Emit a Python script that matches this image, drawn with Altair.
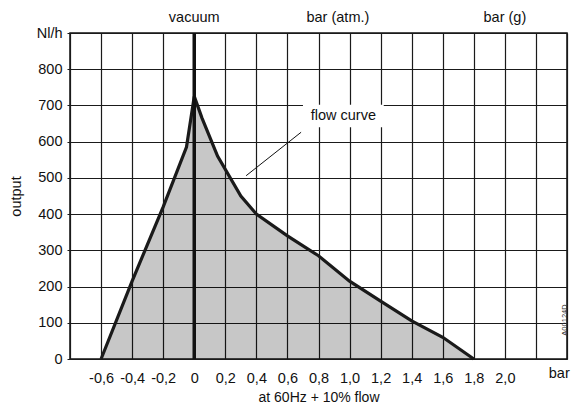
import altair as alt
import pandas as pd

# flow curve (bar, Nl/h)
curve_x = [-0.6, -0.4, -0.2, -0.05, 0.0, 0.05, 0.15, 0.3, 0.4, 0.6, 0.8, 1.0, 1.2, 1.4, 1.6, 1.8]
curve_y = [0, 215, 420, 585, 725, 665, 560, 450, 400, 340, 285, 215, 160, 105, 60, 0]

x_ticks = [-0.8, -0.6, -0.4, -0.2, 0.0, 0.2, 0.4, 0.6, 0.8, 1.0, 1.2, 1.4, 1.6, 1.8, 2.0, 2.2, 2.4]
y_ticks = [0, 100, 200, 300, 400, 500, 600, 700, 800, 900]

top_labels = ["vacuum", "bar (atm.)", "bar (g)"]
top_label_x = [0.0, 0.925, 2.0]

FONT = "Liberation Sans"
FS = 14.5

df = pd.DataFrame({"x": curve_x, "y": curve_y})

xs = alt.Scale(domain=[-0.8, 2.4], nice=False, zero=False)
ys = alt.Scale(domain=[0, 900], nice=False)

x_axis = alt.Axis(
    values=x_ticks, title="at 60Hz + 10% flow", grid=True, gridColor="#1a1a1a", gridWidth=1.2,
    gridOpacity=1, domain=False, ticks=False, labelPadding=12, titlePadding=6,
    labelOverlap=False, tickCount=17,
    labelFont=FONT, labelFontSize=FS, labelColor="#111", titleFont=FONT, titleFontSize=14,
    titleFontWeight="normal", titleColor="#111", labelFlush=False,
    labelExpr="(datum.value < -0.7 || datum.value > 2.1) ? '' : (abs(datum.value) < 0.01 ? '0' : replace(replace(format(datum.value, '.1f'), '.', ','), '\u2212', '-'))")
y_axis = alt.Axis(
    values=y_ticks, title="output", grid=True, gridColor="#1a1a1a", gridWidth=1.2,
    gridOpacity=1, domain=False, ticks=True, tickSize=3, tickColor="#1a1a1a", labelPadding=5,
    titlePadding=13, labelOverlap=False, labelFlush=False, tickCount=10,
    labelFont=FONT, labelFontSize=FS, labelColor="#111", titleFont=FONT, titleFontSize=FS,
    titleFontWeight="normal", titleColor="#111",
    labelExpr="datum.value == 900 ? 'Nl/h' : datum.value")

X = alt.X("x:Q", scale=xs, axis=x_axis)
Y = alt.Y("y:Q", scale=ys, axis=y_axis)

area = alt.Chart(df).mark_area(color="#000000", opacity=0.22).encode(x=X, y=Y)
line = alt.Chart(df).mark_line(color="#1a1a1a", strokeWidth=3.2).encode(x=X, y=Y)

zero_df = pd.DataFrame({"x": [0.0], "y": [0], "y2": [900]})
zero_line = alt.Chart(zero_df).mark_rule(color="#111", strokeWidth=3.5).encode(
    x=X, y=Y, y2="y2:Q")

box_df = pd.DataFrame({"x": [0.70], "x2": [1.22], "y": [640], "y2": [702]})
box = alt.Chart(box_df).mark_rect(color="white").encode(x=X, x2="x2:Q", y=Y, y2="y2:Q")

ann_df = pd.DataFrame({"x": [0.96], "y": [670], "t": ["flow curve"]})
ann = alt.Chart(ann_df).mark_text(font=FONT, fontSize=FS, color="#111").encode(
    x=X, y=Y, text="t:N")

leader_df = pd.DataFrame({"x": [0.688], "y": [626], "x2": [0.334], "y2": [506]})
leader = alt.Chart(leader_df).mark_rule(color="#111", strokeWidth=1).encode(
    x=X, y=Y, x2="x2:Q", y2="y2:Q")

top_df = pd.DataFrame({"x": top_label_x, "t": top_labels})
top = alt.Chart(top_df).mark_text(font=FONT, fontSize=FS, color="#111").encode(
    x=X, y=alt.value(-15), text="t:N")

bar_df = pd.DataFrame({"x": [2.35], "t": ["bar"]})
bar_lbl = alt.Chart(bar_df).mark_text(font=FONT, fontSize=FS, color="#111").encode(
    x=X, y=alt.value(341), text="t:N")

code_df = pd.DataFrame({"t": ["A00124D"]})
code = alt.Chart(code_df).mark_text(font=FONT, fontSize=7.5, color="#333", angle=270).encode(
    x=alt.value(495), y=alt.value(287), text="t:N")

chart = alt.layer(area, line, zero_line, box, ann, leader, top, bar_lbl, code).properties(
    width=497, height=326,
    autosize=alt.AutoSizeParams(type="none"),
    padding={"left": 62, "top": 25, "right": 5, "bottom": 48},
).configure_view(stroke="#111", strokeWidth=1.5)

chart.save("out.html", embed_options={"renderer": "svg", "actions": False})
